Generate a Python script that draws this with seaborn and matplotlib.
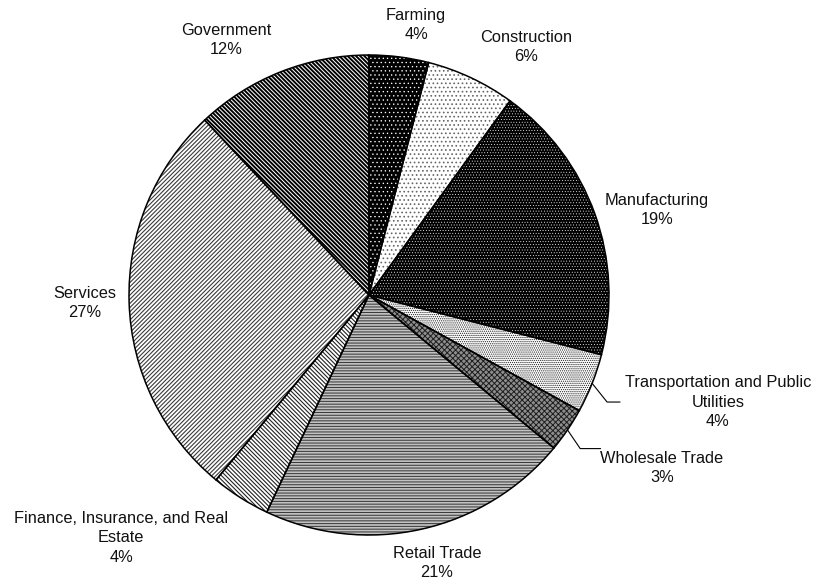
import numpy as np
import matplotlib
matplotlib.use("Agg")
import matplotlib.pyplot as plt
import seaborn as sns

# Share of earnings by industry (percent)
sectors = [
    "Farming",
    "Construction",
    "Manufacturing",
    "Transportation and Public\nUtilities",
    "Wholesale Trade",
    "Retail Trade",
    "Finance, Insurance, and Real\nEstate",
    "Services",
    "Government",
]
shares = [4, 6, 19, 4, 3, 21, 4, 27, 12]

# Monochrome fill patterns, one per sector
face_colors = ["#000000", "#ffffff", "#000000", "#ffffff", "#8e8e8e",
               "#c2c2c2", "#ffffff", "#ffffff", "#ffffff"]
hatch_colors = ["#ffffff", "#666666", "#ffffff", "#222222", "#1e1e1e",
                "#3c3c3c", "#222222", "#3a3a3a", "#000000"]
hatches = ["....", "....", "......", "........", "xxxxxx",
           "------", "\\" * 8, "/" * 8, "\\" * 8]
hatch_widths = [0.45, 0.7, 0.3, 0.6, 0.7, 0.75, 0.8, 0.8, 1.4]

# Label block centres, in units of the pie radius
label_xy = [
    (0.196, 1.125),
    (0.654, 1.033),
    (1.200, 0.354),
    (1.454, -0.446),
    (1.221, -0.721),
    (0.283, -1.117),
    (-1.033, -1.0125),
    (-1.183, -0.033),
    (-0.596, 1.0625),
]
# Leader lines: elbow and end point for the labels set away from their slices
leaders = {
    3: [(0.992, -0.446), (1.046, -0.446)],
    4: [(0.880, -0.640), (0.965, -0.640)],
}

sns.set_theme(style="white")
plt.rcParams["font.family"] = ["Liberation Sans", "DejaVu Sans"]
plt.rcParams["hatch.linewidth"] = 0.75

fig = plt.figure(figsize=(8.17, 5.82), dpi=100)
ax = fig.add_axes([0, 0, 1, 1])

wedges, _ = ax.pie(shares, startangle=90, counterclock=False, radius=1,
                   wedgeprops=dict(linewidth=0))
for w, fc, hc, h, hw in zip(wedges, face_colors, hatch_colors, hatches, hatch_widths):
    w.set_facecolor(fc)
    w.set_edgecolor(hc)
    w.set_hatch(h)
    w.set_linewidth(0)
    if hasattr(w, "set_hatch_linewidth"):
        w.set_hatch_linewidth(hw)

# Black slice outlines drawn over the patterned fills
ax.pie(shares, startangle=90, counterclock=False, radius=1,
       wedgeprops=dict(fill=False, edgecolor="black", linewidth=1.1))

total = float(sum(shares))
cum = np.concatenate([[0.0], np.cumsum(shares)[:-1]])
for i, (name, val) in enumerate(zip(sectors, shares)):
    x, y = label_xy[i]
    ax.text(x, y, f"{name}\n{val}%", ha="center", va="center",
            fontsize=11.8, color="#111111", linespacing=1.38)
    if i in leaders:
        mid = np.deg2rad(90 - 360 * (cum[i] + val / 2) / total)
        pts = [(np.cos(mid), np.sin(mid))] + leaders[i]
        xs, ys = zip(*pts)
        ax.plot(xs, ys, color="black", lw=0.8)

ax.set_aspect("auto")
ax.set_xlim(-369 / 240, (817 - 369) / 240)
ax.set_ylim((295 - 582) / 240, 295 / 240)
ax.axis("off")

fig.savefig("out.png", dpi=100, facecolor="white")
